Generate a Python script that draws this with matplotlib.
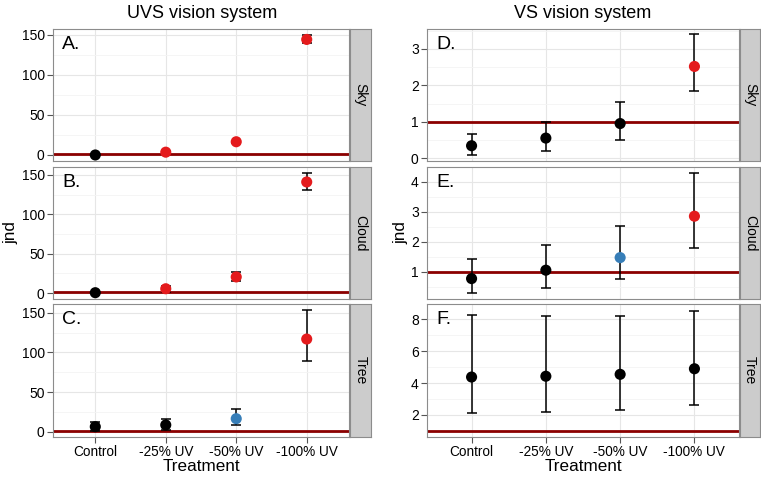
import matplotlib
matplotlib.use("Agg")
import matplotlib.pyplot as plt
from matplotlib.ticker import MultipleLocator, FixedLocator

plt.rcParams['font.family'] = ['Liberation Sans', 'DejaVu Sans']

treatments = ["Control", "-25% UV", "-50% UV", "-100% UV"]

# UVS vision system
uvs_sky_mean = [0.0, 3.5, 16.5, 144.0]
uvs_sky_lo = [-0.5, 2.5, 15.5, 139.0]
uvs_sky_hi = [0.5, 4.5, 17.5, 149.0]
uvs_sky_col = ["black", "red", "red", "red"]

uvs_cloud_mean = [0.5, 5.5, 20.5, 141.0]
uvs_cloud_lo = [-0.5, 2.0, 15.0, 130.5]
uvs_cloud_hi = [1.5, 9.0, 26.5, 153.0]
uvs_cloud_col = ["black", "red", "red", "red"]

uvs_tree_mean = [6.3, 8.5, 16.4, 116.8]
uvs_tree_lo = [1.0, 2.5, 8.5, 89.0]
uvs_tree_hi = [12.6, 15.7, 28.7, 153.0]
uvs_tree_col = ["black", "black", "blue", "red"]

# VS vision system
vs_sky_mean = [0.34, 0.55, 0.95, 2.52]
vs_sky_lo = [0.08, 0.19, 0.50, 1.84]
vs_sky_hi = [0.67, 0.99, 1.54, 3.40]
vs_sky_col = ["black", "black", "black", "red"]

vs_cloud_mean = [0.77, 1.05, 1.47, 2.85]
vs_cloud_lo = [0.28, 0.45, 0.75, 1.80]
vs_cloud_hi = [1.43, 1.89, 2.51, 4.29]
vs_cloud_col = ["black", "black", "blue", "red"]

vs_tree_mean = [4.38, 4.43, 4.55, 4.90]
vs_tree_lo = [2.11, 2.19, 2.33, 2.63]
vs_tree_hi = [8.29, 8.23, 8.23, 8.54]
vs_tree_col = ["black", "black", "black", "black"]

threshold = 1.0
strip_labels = ["Sky", "Cloud", "Tree"]
panel_letters = [["A.", "B.", "C."], ["D.", "E.", "F."]]

colmap = {"black": "#000000", "red": "#E41A1C", "blue": "#377EB8"}

W, H = 761, 478
fig = plt.figure(figsize=(W / 100, H / 100), dpi=100)

def px(x0, y0, x1, y1):
    return [x0 / W, 1 - y1 / H, (x1 - x0) / W, (y1 - y0) / H]

rows = [(29, 161), (167, 299), (304, 437)]
cols = [(53, 349, 350, 371), (427, 739, 740, 760)]

data = [
    [(uvs_sky_mean, uvs_sky_lo, uvs_sky_hi, uvs_sky_col),
     (uvs_cloud_mean, uvs_cloud_lo, uvs_cloud_hi, uvs_cloud_col),
     (uvs_tree_mean, uvs_tree_lo, uvs_tree_hi, uvs_tree_col)],
    [(vs_sky_mean, vs_sky_lo, vs_sky_hi, vs_sky_col),
     (vs_cloud_mean, vs_cloud_lo, vs_cloud_hi, vs_cloud_col),
     (vs_tree_mean, vs_tree_lo, vs_tree_hi, vs_tree_col)],
]
ylims = [[(-7.5, 157), (-7.5, 160), (-6.7, 161)],
         [(-0.08, 3.55), (0.09, 4.49), (0.62, 8.96)]]
ysteps = [[50, 50, 50], [1, 1, 2]]

grid_major = "#E6E6E6"
grid_minor = "#F4F4F4"
border = "#8C8C8C"

for c, (x0, x1, s0, s1) in enumerate(cols):
    for r, (y0, y1) in enumerate(rows):
        ax = fig.add_axes(px(x0, y0, x1, y1))
        mean, lo, hi, colr = data[c][r]
        xs = list(range(len(treatments)))
        ax.axhline(threshold, color="#8B0000", lw=2.0, zorder=2)
        ax.errorbar(xs, mean,
                    yerr=[[m - l for m, l in zip(mean, lo)],
                          [h - m for h, m in zip(hi, mean)]],
                    fmt="none", ecolor="black", elinewidth=1.1,
                    capsize=3.8, capthick=1.1, zorder=3)
        ax.scatter(xs, mean, c=[colmap[k] for k in colr], s=64,
                   linewidths=0, zorder=4)
        ax.set_xlim(-0.6, 3.6)
        ax.set_ylim(*ylims[c][r])
        step = ysteps[c][r]
        ax.yaxis.set_major_locator(MultipleLocator(step))
        ax.yaxis.set_minor_locator(MultipleLocator(step / 2))
        ax.set_xticks(xs)
        ax.xaxis.set_minor_locator(FixedLocator([]))
        ax.grid(True, which="major", color=grid_major, lw=0.8, zorder=0)
        ax.grid(True, which="minor", axis="y", color=grid_minor, lw=0.6, zorder=0)
        ax.set_axisbelow(True)
        for sp in ax.spines.values():
            sp.set_color(border)
            sp.set_linewidth(0.8)
        ax.tick_params(axis="both", which="major", direction="out", length=4,
                       color="#555555", width=0.8, labelsize=10, pad=2)
        ax.tick_params(axis="both", which="minor", length=0)
        if r == 2:
            ax.set_xticklabels(treatments, fontsize=9.8)
            ax.set_xlabel("Treatment", fontsize=12.3, labelpad=0)
        else:
            ax.set_xticklabels([])
            ax.tick_params(axis="x", length=0)
        if r == 1:
            ax.set_ylabel("jnd", fontsize=12.3, labelpad=2)
        ax.text(0.03, 0.95, panel_letters[c][r], transform=ax.transAxes,
                fontsize=14, va="top", ha="left")
        # strip
        sax = fig.add_axes(px(s0, y0, s1, y1))
        sax.set_facecolor("#CCCCCC")
        sax.set_xticks([])
        sax.set_yticks([])
        for sp in sax.spines.values():
            sp.set_color(border)
            sp.set_linewidth(0.8)
        sax.text(0.5, 0.5, strip_labels[r], rotation=-90, ha="center",
                 va="center", fontsize=10, transform=sax.transAxes)

fig.text(202 / W, 1 - 13 / H, "UVS vision system", ha="center", va="center", fontsize=13)
fig.text(583 / W, 1 - 13 / H, "VS vision system", ha="center", va="center", fontsize=13)

fig.savefig("out.png", dpi=100)
